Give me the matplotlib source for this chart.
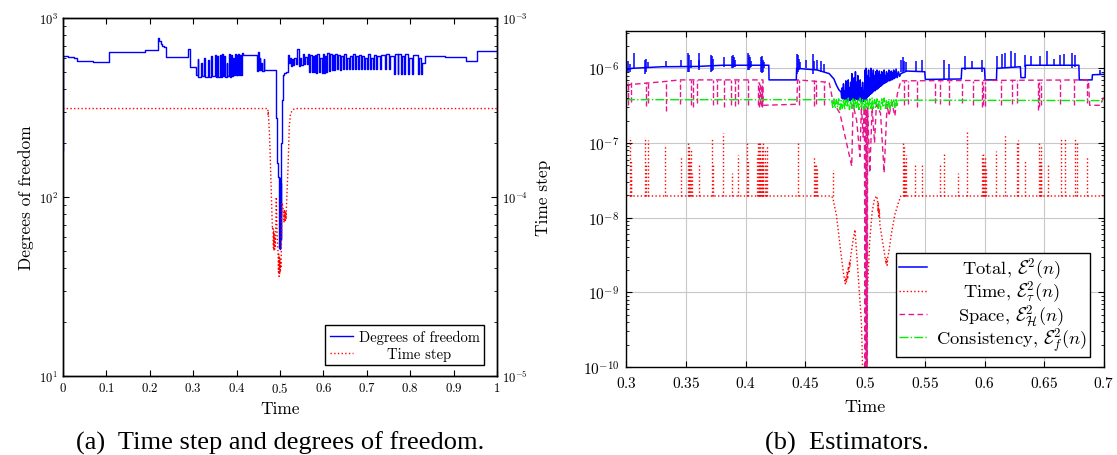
import matplotlib.pyplot as plt

plt.rcParams['font.family'] = 'serif'
plt.rcParams['font.serif'] = ['cmr10']
plt.rcParams['mathtext.fontset'] = 'cm'
plt.rcParams['axes.formatter.use_mathtext'] = True
plt.rcParams['axes.unicode_minus'] = False

# ---------------- (a) degrees of freedom and time step, t in [0, 1]
dof_t = [
    0.000, 0.001, 0.012, 0.025, 0.032, 0.070, 0.106, 0.150, 0.190, 0.217,
    0.220, 0.222, 0.225, 0.229, 0.233, 0.237, 0.289, 0.292, 0.303, 0.306,
    0.310, 0.312, 0.318, 0.320, 0.326, 0.328, 0.334, 0.336, 0.342, 0.344,
    0.350, 0.352, 0.355, 0.357, 0.361, 0.363, 0.367, 0.369, 0.372, 0.374,
    0.377, 0.379, 0.382, 0.384, 0.387, 0.389, 0.392, 0.394, 0.396, 0.398,
    0.400, 0.402, 0.404, 0.406, 0.408, 0.410, 0.412, 0.414, 0.446, 0.449,
    0.451, 0.453, 0.455, 0.457, 0.459, 0.462, 0.464, 0.466, 0.491, 0.492,
    0.493, 0.494, 0.496, 0.4985, 0.499, 0.4995, 0.500, 0.5005, 0.501, 0.5015,
    0.502, 0.5025, 0.504, 0.5046, 0.507, 0.508, 0.509, 0.5146, 0.518, 0.521,
    0.523, 0.526, 0.528, 0.531, 0.533, 0.537, 0.539, 0.543, 0.545, 0.549,
    0.552, 0.556, 0.558, 0.562, 0.564, 0.567, 0.569, 0.573, 0.575, 0.579,
    0.581, 0.584, 0.586, 0.590, 0.592, 0.596, 0.598, 0.601, 0.603, 0.607,
    0.609, 0.613, 0.615, 0.619, 0.621, 0.625, 0.627, 0.632, 0.634, 0.638,
    0.640, 0.645, 0.647, 0.652, 0.654, 0.659, 0.661, 0.666, 0.668, 0.673,
    0.675, 0.680, 0.682, 0.686, 0.688, 0.693, 0.695, 0.700, 0.702, 0.707,
    0.709, 0.714, 0.716, 0.722, 0.724, 0.731, 0.733, 0.742, 0.744, 0.752,
    0.754, 0.762, 0.764, 0.771, 0.773, 0.778, 0.780, 0.786, 0.788, 0.795,
    0.797, 0.805, 0.807, 0.818, 0.820, 0.826, 0.828, 0.833, 0.880, 0.928,
    0.955, 1.000]
dof_n = [
    184, 612, 606, 600, 578, 570, 647, 644, 660, 662,
    773, 745, 715, 700, 690, 606, 670, 535, 530, 478,
    590, 470, 560, 472, 600, 468, 585, 470, 610, 475,
    620, 470, 615, 468, 625, 470, 630, 472, 610, 470,
    560, 472, 628, 470, 625, 475, 600, 478, 628, 480,
    620, 478, 632, 480, 625, 480, 635, 622, 505, 645,
    515, 600, 510, 560, 508, 590, 512, 515, 277, 240,
    190, 155, 130, 52, 125, 55, 128, 51, 120, 58,
    130, 200, 280, 350, 413, 480, 493, 500, 623, 560,
    600, 540, 590, 545, 600, 550, 670, 541, 595, 545,
    628, 550, 602, 552, 630, 500, 620, 498, 610, 500,
    625, 496, 630, 498, 600, 494, 628, 496, 615, 500,
    640, 505, 630, 510, 620, 515, 632, 518, 625, 512,
    610, 518, 628, 520, 600, 518, 615, 518, 632, 518,
    610, 520, 625, 518, 612, 520, 600, 518, 628, 518,
    600, 516, 620, 518, 610, 520, 625, 518, 630, 520,
    615, 485, 632, 485, 628, 485, 612, 488, 630, 485,
    598, 485, 620, 485, 600, 485, 560, 615, 608, 574,
    650, 650]

step_t = [
    0.0, 0.472, 0.4725, 0.473, 0.4735, 0.474, 0.476, 0.4825, 0.484, 0.4848,
    0.4855, 0.4862, 0.487, 0.4878, 0.4886, 0.4892, 0.4915, 0.4935, 0.4955, 0.4965,
    0.4972, 0.4979, 0.4986, 0.4993, 0.5, 0.5008, 0.5015, 0.5022, 0.503, 0.5046,
    0.507, 0.5092, 0.51, 0.5108, 0.5116, 0.5124, 0.5132, 0.514, 0.5146, 0.5184,
    0.5215, 0.524, 0.528, 0.534, 1.0]
step_v = [
    3.12e-4, 3.12e-4, 2.9e-4, 3.0e-4, 2.8e-4, 2.7e-4, 2.2e-4, 6.6e-5, 6.8e-5, 5.2e-5,
    6.5e-5, 5.0e-5, 6.2e-5, 5.1e-5, 6.0e-5, 5.3e-5, 1.0e-4, 6.0e-5, 4.9e-5, 3.8e-5,
    4.8e-5, 3.6e-5, 4.6e-5, 3.7e-5, 4.5e-5, 3.8e-5, 4.4e-5, 4.0e-5, 5.0e-5, 9.3e-5,
    8.6e-5, 7.2e-5, 8.5e-5, 7.3e-5, 8.4e-5, 7.4e-5, 8.3e-5, 7.5e-5, 8.5e-5, 1.44e-4,
    2.5e-4, 2.9e-4, 3.05e-4, 3.12e-4, 3.12e-4]

time_ticks = [0, 0.1, 0.2, 0.3, 0.4, 0.5, 0.6, 0.7, 0.8, 0.9, 1]
time_labels = [r'$\mathbf{0}$', r'$\mathbf{0.1}$', r'$\mathbf{0.2}$', r'$\mathbf{0.3}$',
               r'$\mathbf{0.4}$', r'$\mathbf{0.5}$', r'$\mathbf{0.6}$', r'$\mathbf{0.7}$',
               r'$\mathbf{0.8}$', r'$\mathbf{0.9}$', r'$\mathbf{1}$']
dof_ticks = [10, 100, 1000]
dof_labels = [r'$10^{1}$', r'$10^{2}$', r'$10^{3}$']
step_ticks = [1e-5, 1e-4, 1e-3]
step_labels = [r'$10^{-5}$', r'$10^{-4}$', r'$10^{-3}$']

# ---------------- (b) estimators, t in [0.3, 0.7]
total_t = [0.300, 0.305, 0.330, 0.360, 0.381, 0.4195, 0.4197, 0.4425, 0.4428, 0.460,
           0.470, 0.474, 0.476, 0.478, 0.480]
total_v = [9.5e-7, 1.0e-6, 1.05e-6, 1.06e-6, 1.1e-6, 1.1e-6, 7.0e-7, 7.0e-7, 1.0e-6, 9.5e-7,
           8.5e-7, 7.2e-7, 6.0e-7, 5.2e-7, 4.8e-7]
total_dip_t = [
    0.4805, 0.4810, 0.4815, 0.4820, 0.4825, 0.4830, 0.4835, 0.4840, 0.4845, 0.4850,
    0.4855, 0.4860, 0.4865, 0.4870, 0.4875, 0.4880, 0.4885, 0.4890, 0.4895, 0.4900,
    0.4905, 0.4910, 0.4915, 0.4920, 0.4925, 0.4930, 0.4935, 0.4940, 0.4945, 0.4950,
    0.4955, 0.4960, 0.4965, 0.4970, 0.4975, 0.4980, 0.4985, 0.4990, 0.4995, 0.5000,
    0.5005, 0.5010, 0.5015, 0.5020, 0.5025, 0.5030, 0.5035, 0.5040, 0.5045, 0.5050,
    0.5055, 0.5060, 0.5065, 0.5070, 0.5075, 0.5080, 0.5085, 0.5090, 0.5095, 0.5100,
    0.5105, 0.5110, 0.5115, 0.5120, 0.5125, 0.5130, 0.5135, 0.5140, 0.5145, 0.5150,
    0.5155, 0.5160, 0.5165, 0.5170, 0.5175, 0.5180, 0.5185, 0.5190, 0.5195, 0.5200,
    0.5205, 0.5210, 0.5215, 0.5220, 0.5225, 0.5230, 0.5235, 0.5240, 0.5245, 0.5250,
    0.5255, 0.5260]
total_dip_v = [
    4.0e-7, 5.5e-7, 3.9e-7, 6.2e-7, 3.8e-7, 5.0e-7, 3.8e-7, 6.8e-7, 3.8e-7, 5.2e-7,
    3.7e-7, 7.0e-7, 3.8e-7, 5.5e-7, 3.7e-7, 6.5e-7, 3.8e-7, 8.5e-7, 3.8e-7, 6.0e-7,
    3.7e-7, 7.5e-7, 3.8e-7, 9.0e-7, 3.9e-7, 6.5e-7, 3.8e-7, 8.0e-7, 3.8e-7, 6.0e-7,
    3.7e-7, 7.0e-7, 3.7e-7, 5.5e-7, 3.6e-7, 6.5e-7, 3.6e-7, 5.0e-7, 3.6e-7, 9.5e-7,
    3.7e-7, 1.0e-6, 4.0e-7, 8.0e-7, 4.2e-7, 9.5e-7, 4.3e-7, 7.5e-7, 4.5e-7, 1.0e-6,
    4.6e-7, 8.5e-7, 4.8e-7, 9.5e-7, 5.0e-7, 8.0e-7, 5.0e-7, 9.0e-7, 5.2e-7, 9.5e-7,
    5.3e-7, 8.5e-7, 5.5e-7, 9.2e-7, 5.7e-7, 8.2e-7, 5.8e-7, 9.0e-7, 6.0e-7, 8.5e-7,
    6.2e-7, 9.5e-7, 6.3e-7, 8.0e-7, 6.5e-7, 9.0e-7, 6.6e-7, 8.5e-7, 6.8e-7, 9.5e-7,
    6.8e-7, 8.5e-7, 7.0e-7, 9.2e-7, 7.0e-7, 8.8e-7, 7.2e-7, 9.5e-7, 7.3e-7, 9.0e-7,
    7.5e-7, 9.8e-7]
total_end_t = [0.527, 0.528, 0.529, 0.530, 0.535, 0.5500, 0.5505, 0.5805, 0.5810, 0.6000,
               0.6005, 0.6100, 0.6103, 0.6300, 0.6305, 0.6340, 0.6343, 0.6790, 0.6793, 0.6900,
               0.6903, 0.7000]
total_end_v = [7.5e-7, 9.0e-7, 7.8e-7, 8.5e-7, 9.2e-7, 9.0e-7, 7.1e-7, 7.2e-7, 1.0e-6, 1.0e-6,
               7.0e-7, 7.0e-7, 1.0e-6, 1.05e-6, 7.5e-7, 7.5e-7, 1.1e-6, 1.1e-6, 7.0e-7, 7.0e-7,
               8.2e-7, 8.3e-7]
total_spike_t = [
    0.3015, 0.3030, 0.3070, 0.3160, 0.3170, 0.3185, 0.3332, 0.3462, 0.3522, 0.3530,
    0.3540, 0.3608, 0.3615, 0.3708, 0.3716, 0.3725, 0.3818, 0.3884, 0.3892, 0.3900,
    0.3915, 0.4023, 0.4031, 0.4040, 0.4050, 0.4128, 0.4136, 0.4145, 0.4155, 0.4428,
    0.4436, 0.4445, 0.4460, 0.4505, 0.4568, 0.4576, 0.4595, 0.4632, 0.4655, 0.5305,
    0.5315, 0.5325, 0.5340, 0.5423, 0.5480, 0.5658, 0.5703, 0.5833, 0.5893, 0.5983,
    0.6103, 0.6143, 0.6173, 0.6223, 0.6253, 0.6343, 0.6393, 0.6463, 0.6523, 0.6583,
    0.6633, 0.6668, 0.6733, 0.6760, 0.6965]
total_spike_lo = [
    9.0e-7, 8.8e-7, 1.0e-6, 8.5e-7, 9.0e-7, 1.0e-6, 1.05e-6, 1.05e-6, 8.8e-7, 9.0e-7,
    1.0e-6, 9.5e-7, 1.0e-6, 9.0e-7, 9.2e-7, 9.5e-7, 1.05e-6, 1.0e-6, 1.0e-6, 1.05e-6,
    1.05e-6, 9.5e-7, 9.5e-7, 1.0e-6, 1.05e-6, 9.0e-7, 8.7e-7, 9.0e-7, 1.0e-6, 8.5e-7,
    9.0e-7, 9.5e-7, 1.0e-6, 1.0e-6, 8.5e-7, 9.5e-7, 9.5e-7, 9.0e-7, 8.8e-7, 8.8e-7,
    9.0e-7, 9.2e-7, 9.3e-7, 9.2e-7, 9.0e-7, 7.1e-7, 7.2e-7, 9.5e-7, 1.0e-6, 8.8e-7,
    1.0e-6, 1.0e-6, 1.0e-6, 1.05e-6, 1.05e-6, 1.05e-6, 1.1e-6, 1.1e-6, 1.1e-6, 1.1e-6,
    1.1e-6, 1.1e-6, 1.0e-6, 1.05e-6, 8.2e-7]
total_spike_hi = [
    1.25e-6, 1.15e-6, 1.6e-6, 1.3e-6, 1.35e-6, 1.2e-6, 1.25e-6, 1.3e-6, 1.6e-6, 1.5e-6,
    1.3e-6, 1.6e-6, 1.3e-6, 1.5e-6, 1.45e-6, 1.35e-6, 1.4e-6, 1.45e-6, 1.5e-6, 1.4e-6,
    1.3e-6, 1.6e-6, 1.5e-6, 1.4e-6, 1.25e-6, 1.4e-6, 1.45e-6, 1.3e-6, 1.2e-6, 1.55e-6,
    1.5e-6, 1.35e-6, 1.2e-6, 1.3e-6, 1.55e-6, 1.25e-6, 1.3e-6, 1.25e-6, 1.15e-6, 1.3e-6,
    1.4e-6, 1.25e-6, 1.2e-6, 1.25e-6, 1.3e-6, 1.3e-6, 1.15e-6, 1.45e-6, 1.25e-6, 1.3e-6,
    1.45e-6, 1.55e-6, 1.6e-6, 1.7e-6, 1.6e-6, 1.5e-6, 1.45e-6, 1.45e-6, 1.7e-6, 1.35e-6,
    1.5e-6, 1.55e-6, 1.6e-6, 1.5e-6, 9.5e-7]

time_t = [
    0.300, 0.472, 0.4733, 0.4738, 0.476, 0.478, 0.480, 0.482, 0.4835, 0.4840,
    0.4845, 0.4850, 0.4855, 0.4860, 0.4865, 0.4870, 0.4875, 0.4880, 0.4900, 0.4916,
    0.4940, 0.4970, 0.4995, 0.5005, 0.5020, 0.5040, 0.5060, 0.5080, 0.5098, 0.5105,
    0.5108, 0.5112, 0.5116, 0.5120, 0.5125, 0.5150, 0.5170, 0.5175, 0.5180, 0.5185,
    0.5190, 0.5200, 0.5220, 0.5250, 0.5280, 0.5300, 0.7000]
time_v = [
    1.95e-8, 1.95e-8, 1.8e-8, 1.6e-8, 1.1e-8, 6e-9, 3.2e-9, 1.8e-9, 1.3e-9, 1.6e-9,
    1.35e-9, 1.9e-9, 1.5e-9, 2.2e-9, 1.8e-9, 2.6e-9, 2.2e-9, 3e-9, 5e-9, 6.9e-9,
    2e-9, 4e-10, 1e-11, 1e-11, 1e-9, 5e-9, 1.2e-8, 1.8e-8, 1.95e-8, 1.7e-8,
    1.2e-8, 1.6e-8, 1.0e-8, 1.3e-8, 8e-9, 4.5e-9, 2.8e-9, 2.4e-9, 2.8e-9, 2.3e-9,
    2.9e-9, 3.5e-9, 6e-9, 1.1e-8, 1.6e-8, 1.95e-8, 1.95e-8]
time_floor = 1.95e-8
time_spike_t = [
    0.3030, 0.3040, 0.3045, 0.3160, 0.3170, 0.3180, 0.3330, 0.3460, 0.3520, 0.3525,
    0.3530, 0.3535, 0.3540, 0.3555, 0.3610, 0.3720, 0.3725, 0.3810, 0.3890, 0.3940,
    0.4010, 0.4020, 0.4100, 0.4105, 0.4110, 0.4115, 0.4120, 0.4125, 0.4130, 0.4135,
    0.4140, 0.4145, 0.4150, 0.4160, 0.4170, 0.4180, 0.4440, 0.4570, 0.4580, 0.4590,
    0.4600, 0.4735, 0.5320, 0.5325, 0.5330, 0.5335, 0.5340, 0.5420, 0.5480, 0.5630,
    0.5660, 0.5780, 0.5850, 0.5980, 0.5985, 0.5990, 0.5995, 0.6000, 0.6010, 0.6100,
    0.6170, 0.6270, 0.6280, 0.6340, 0.6460, 0.6465, 0.6470, 0.6475, 0.6530, 0.6640,
    0.6670, 0.6760, 0.6770, 0.6860]
time_spike_top = [
    1.2e-7, 3.5e-8, 6e-8, 1.2e-7, 5e-8, 1.1e-7, 9e-8, 6.6e-8, 1.0e-7, 7e-8,
    9e-8, 6e-8, 8e-8, 4e-8, 5.4e-8, 1.15e-7, 5e-8, 1.36e-7, 4e-8, 7e-8,
    1.0e-7, 6e-8, 7e-8, 1.0e-7, 6e-8, 1.05e-7, 7e-8, 1.0e-7, 6e-8, 9.5e-8,
    7e-8, 1.0e-7, 6e-8, 8e-8, 5e-8, 9e-8, 1.0e-7, 6.6e-8, 5e-8, 5.4e-8,
    4.5e-8, 4.4e-8, 1.0e-7, 6e-8, 9.5e-8, 5e-8, 7e-8, 5.4e-8, 5.4e-8, 5.4e-8,
    7.5e-8, 4e-8, 1.5e-7, 7e-8, 5e-8, 7.5e-8, 5.5e-8, 6.5e-8, 4.5e-8, 7.7e-8,
    1.3e-7, 1.05e-7, 1.1e-7, 6e-8, 1.0e-7, 6e-8, 9e-8, 5e-8, 5.4e-8, 1.2e-7,
    1.15e-7, 1.2e-7, 1.0e-7, 6.6e-8]

space_t = [
    0.300, 0.330, 0.345, 0.4146, 0.4148, 0.4150, 0.4430, 0.4435, 0.470, 0.472,
    0.4733, 0.476, 0.479, 0.4889, 0.4900, 0.4930, 0.4958, 0.4970, 0.4985, 0.4995,
    0.5002, 0.5006, 0.5010, 0.5014, 0.5018, 0.5022, 0.5040, 0.5060, 0.5080, 0.5095,
    0.5130, 0.5160, 0.5185, 0.5200, 0.5225, 0.5250, 0.5270, 0.5300, 0.6870, 0.6880,
    0.6970, 0.7000]
space_v = [
    6.0e-7, 6.6e-7, 7.0e-7, 7.0e-7, 3.2e-7, 3.2e-7, 3.3e-7, 7.0e-7, 6.5e-7, 4.5e-7,
    3.5e-7, 3.0e-7, 2.5e-7, 4.9e-8, 3.3e-7, 2.0e-7, 6.6e-8, 3.2e-7, 1.2e-7, 3.0e-7,
    1e-11, 3.0e-7, 1e-11, 2.8e-7, 1e-11, 3.0e-7, 4e-8, 3.0e-7, 1.0e-7, 3.3e-7,
    2.5e-7, 4.0e-8, 3.3e-7, 2.3e-7, 3.5e-7, 2.3e-7, 4.5e-7, 6.8e-7, 7.0e-7, 3.2e-7,
    3.2e-7, 4.3e-7]
space_drop_t = [
    0.3015, 0.3046, 0.3165, 0.3181, 0.3331, 0.3451, 0.3541, 0.3561, 0.3591, 0.3731,
    0.3761, 0.3821, 0.3881, 0.3911, 0.3941, 0.4018, 0.4102, 0.4110, 0.4118, 0.4126,
    0.4134, 0.4142, 0.4448, 0.4571, 0.4593, 0.4658, 0.5323, 0.5360, 0.5433, 0.5583,
    0.5628, 0.5705, 0.5811, 0.5901, 0.5978, 0.5990, 0.6000, 0.6141, 0.6231, 0.6275,
    0.6451, 0.6460, 0.6470, 0.6631, 0.6751, 0.6855]
space_drop_lo = [
    3.2e-7, 3.5e-7, 3.1e-7, 3.4e-7, 2.7e-7, 3.3e-7, 3.2e-7, 3.0e-7, 3.4e-7, 3.2e-7,
    3.3e-7, 3.0e-7, 3.2e-7, 3.1e-7, 3.3e-7, 3.2e-7, 3.2e-7, 3.0e-7, 3.3e-7, 3.1e-7,
    3.2e-7, 3.0e-7, 3.2e-7, 3.1e-7, 3.3e-7, 3.2e-7, 3.2e-7, 3.3e-7, 3.0e-7, 3.4e-7,
    3.3e-7, 3.2e-7, 3.4e-7, 3.2e-7, 3.0e-7, 3.2e-7, 3.1e-7, 3.2e-7, 3.3e-7, 3.4e-7,
    2.8e-7, 3.0e-7, 3.2e-7, 3.3e-7, 3.2e-7, 3.4e-7]
space_drop_hi = [
    6.5e-7, 6.5e-7, 6.6e-7, 6.6e-7, 6.8e-7, 7.0e-7, 7.0e-7, 7.0e-7, 7.0e-7, 7.0e-7,
    7.0e-7, 7.0e-7, 7.0e-7, 7.0e-7, 7.0e-7, 7.0e-7, 6.5e-7, 6.5e-7, 6.2e-7, 6.2e-7,
    6.0e-7, 5.8e-7, 7.0e-7, 7.0e-7, 6.8e-7, 6.6e-7, 6.8e-7, 6.8e-7, 6.8e-7, 6.8e-7,
    6.8e-7, 6.8e-7, 6.8e-7, 6.8e-7, 6.8e-7, 6.5e-7, 6.5e-7, 6.8e-7, 7.0e-7, 7.0e-7,
    7.0e-7, 6.5e-7, 6.5e-7, 7.0e-7, 7.0e-7, 7.0e-7]

cons_t = [
    0.3000, 0.4720,
    0.4730, 0.4740, 0.4750, 0.4760, 0.4770, 0.4780, 0.4790, 0.4800, 0.4810, 0.4820,
    0.4830, 0.4840, 0.4850, 0.4860, 0.4870, 0.4880, 0.4890, 0.4900, 0.4910, 0.4920,
    0.4930, 0.4940, 0.4950, 0.4960, 0.4970, 0.4980, 0.4990, 0.5000, 0.5010, 0.5020,
    0.5030, 0.5040, 0.5050, 0.5060, 0.5070, 0.5080, 0.5090, 0.5100, 0.5110, 0.5120,
    0.5130, 0.5140, 0.5150, 0.5160, 0.5170, 0.5180, 0.5190, 0.5200, 0.5210, 0.5220,
    0.5230, 0.5240, 0.5250, 0.5260, 0.5270, 0.5280,
    0.5290, 0.7000]
cons_v = [
    3.8e-7, 3.8e-7,
    3.0e-7, 3.9e-7, 2.9e-7, 3.8e-7, 3.0e-7, 3.9e-7, 2.8e-7, 3.7e-7, 2.9e-7, 3.9e-7,
    2.8e-7, 3.8e-7, 3.0e-7, 4.0e-7, 2.8e-7, 3.7e-7, 2.9e-7, 3.9e-7, 2.8e-7, 3.8e-7,
    3.0e-7, 3.9e-7, 2.8e-7, 4.0e-7, 2.9e-7, 3.8e-7, 2.8e-7, 3.9e-7, 3.0e-7, 3.8e-7,
    2.8e-7, 3.9e-7, 2.9e-7, 4.0e-7, 2.8e-7, 3.8e-7, 3.0e-7, 3.9e-7, 2.9e-7, 3.8e-7,
    2.8e-7, 3.9e-7, 3.0e-7, 4.0e-7, 2.9e-7, 3.8e-7, 3.0e-7, 3.9e-7, 2.9e-7, 3.8e-7,
    3.1e-7, 3.9e-7, 3.0e-7, 3.8e-7, 3.2e-7, 3.9e-7,
    3.75e-7, 3.7e-7]

est_xticks = [0.3, 0.35, 0.4, 0.45, 0.5, 0.55, 0.6, 0.65, 0.7]
est_xlabels = [r'$0.3$', r'$0.35$', r'$0.4$', r'$0.45$', r'$0.5$', r'$0.55$', r'$0.6$', r'$0.65$', r'$0.7$']
est_yticks = [1e-10, 1e-9, 1e-8, 1e-7, 1e-6]
est_ylabels = [r'$10^{-10}$', r'$10^{-9}$', r'$10^{-8}$', r'$10^{-7}$', r'$10^{-6}$']
est_names = [r'Total, $\mathcal{E}^2(n)$', r'Time, $\mathcal{E}_\tau^2(n)$',
             r'Space, $\mathcal{E}_\mathcal{H}^2(n)$', r'Consistency, $\mathcal{E}_f^2(n)$']

BLUE = '#0000ff'
RED = '#ff0000'
PINK = '#e6168c'
GREEN = '#00f000'

fig = plt.figure(figsize=(11.17, 4.56), dpi=100)


def center_legend_texts(leg):
    # pgfplots centres the legend entries; shift shorter labels right
    fig.canvas.draw()
    r = fig.canvas.get_renderer()
    texts = leg.get_texts()
    widths = [t.get_window_extent(r).width for t in texts]
    wmax = max(widths)
    for t, w in zip(texts, widths):
        t.set_x((wmax - w) / 2)


# ---------- left panel
ax1 = fig.add_axes([63 / 1117, 1 - 377 / 456, 434 / 1117, 358 / 456])
ax1.plot(dof_t, dof_n, drawstyle='steps-post', color=BLUE, lw=1.0)
ax1.set_yscale('log')
ax1.set_xlim(0, 1)
ax1.set_ylim(10, 1000)
ax1.set_xticks(time_ticks, time_labels, fontsize=9.2)
ax1.set_yticks(dof_ticks, dof_labels, fontsize=9)
ax1.tick_params(which='both', direction='in', top=True, right=False)
ax1.tick_params(which='major', length=4)
ax1.tick_params(which='minor', length=2)
ax1.set_xlabel('Time', fontsize=12.5, labelpad=4)
ax1.set_ylabel('Degrees of freedom', fontsize=12.5, labelpad=4)

ax2 = ax1.twinx()
ax2.plot(step_t, step_v, color=RED, ls=':', lw=1.0)
ax2.set_yscale('log')
ax2.set_ylim(1e-5, 1e-3)
ax2.set_yticks(step_ticks, step_labels, fontsize=9)
ax2.tick_params(which='both', direction='in')
ax2.tick_params(which='major', length=4)
ax2.tick_params(which='minor', length=2)
ax2.set_ylabel('Time step', fontsize=12.5, labelpad=6)

h1 = ax1.get_lines()[0]
h2 = ax2.get_lines()[0]
leg1 = ax2.legend([h1, h2], ['Degrees of freedom', 'Time step'], loc='lower right',
                  bbox_to_anchor=(0.97, 0.03), fontsize=10.5, frameon=True, fancybox=False,
                  edgecolor='black', framealpha=1, handlelength=1.6, handletextpad=0.4,
                  labelspacing=0.2, borderpad=0.3, borderaxespad=0)
leg1.get_frame().set_linewidth(1.0)

# ---------- right panel
ax3 = fig.add_axes([626 / 1117, 1 - 368 / 456, 478 / 1117, 336 / 456])
l_total, = ax3.plot(total_t + total_dip_t + total_end_t, total_v + total_dip_v + total_end_v,
                    color=BLUE, lw=1.1)
ax3.vlines(total_spike_t, total_spike_lo, total_spike_hi, color=BLUE, lw=1.1)
l_time, = ax3.plot(time_t, time_v, color=RED, ls=':', lw=1.0)
ax3.vlines(time_spike_t, time_floor, time_spike_top, color=RED, linestyles=':', lw=1.0)
l_space, = ax3.plot(space_t, space_v, color=PINK, ls='--', dashes=(4, 2.5), lw=1.0)
ax3.vlines(space_drop_t, space_drop_lo, space_drop_hi, color=PINK, linestyles='--', lw=1.0)
l_cons, = ax3.plot(cons_t, cons_v, color=GREEN, ls='-.', lw=1.0)
ax3.set_yscale('log')
ax3.set_xlim(0.3, 0.7)
ax3.set_ylim(1e-10, 10 ** -5.5)
ax3.set_xticks(est_xticks, est_xlabels, fontsize=11)
ax3.set_yticks(est_yticks, est_ylabels, fontsize=11)
ax3.tick_params(which='both', direction='in', top=True, right=True)
ax3.tick_params(which='major', length=4)
ax3.tick_params(which='minor', length=2)
ax3.tick_params(axis='x', pad=6)
ax3.tick_params(axis='y', pad=5)
ax3.grid(True, which='major', color='#c8c8c8', lw=0.8)
ax3.set_axisbelow(True)
ax3.set_xlabel('Time', fontsize=13, labelpad=6)

leg2 = ax3.legend([l_total, l_time, l_space, l_cons], est_names, loc='lower right',
                  bbox_to_anchor=(0.97, 0.03), fontsize=13.3, frameon=True, fancybox=False,
                  edgecolor='black', framealpha=1, handlelength=1.5, handletextpad=0.5,
                  labelspacing=-0.12, borderpad=0.15, borderaxespad=0)
leg2.get_frame().set_linewidth(1.0)

for ax in (ax1, ax2, ax3):
    for s in ax.spines.values():
        s.set_linewidth(1.0)

# ---------- sub-captions
fig.text(280 / 1117, 1 - 443 / 456, '(a)  Time step and degrees of freedom.', ha='center',
         va='center', fontsize=19, family='Liberation Serif')
fig.text(847 / 1117, 1 - 443 / 456, '(b)  Estimators.', ha='center', va='center',
         fontsize=19, family='Liberation Serif')

center_legend_texts(leg1)
center_legend_texts(leg2)

fig.savefig('out.png', dpi=100)
